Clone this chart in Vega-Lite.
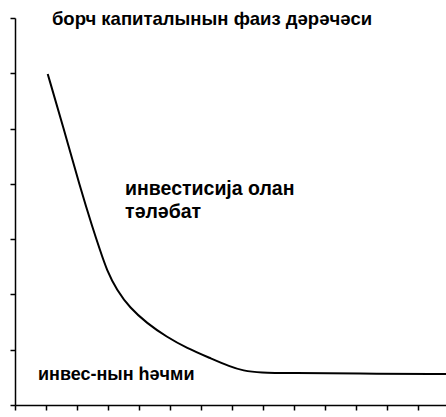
{
  "$schema": "https://vega.github.io/schema/vega-lite/v6.json",
  "width": 431,
  "height": 387,
  "autosize": {"type": "none"},
  "padding": {"left": 15, "top": 18, "right": 0, "bottom": 12},
  "background": "white",
  "config": {
    "view": {"stroke": null},
    "axis": {
      "labels": false,
      "labelOverlap": false,
      "title": null,
      "grid": false,
      "domainColor": "black",
      "domainWidth": 1.5,
      "tickColor": "black",
      "tickWidth": 1.5,
      "tickSize": 5
    },
    "text": {"align": "left", "baseline": "alphabetic", "font": "Liberation Sans", "fontWeight": "bold", "color": "black"}
  },
  "datasets": {
    "curve": [
      {"q": 1.055, "r": 5.986},
      {"q": 1.558, "r": 5.027},
      {"q": 2.097, "r": 3.942},
      {"q": 2.526, "r": 3.165},
      {"q": 2.742, "r": 2.803},
      {"q": 2.958, "r": 2.441},
      {"q": 3.281, "r": 2.08},
      {"q": 3.71, "r": 1.754},
      {"q": 4.248, "r": 1.483},
      {"q": 4.894, "r": 1.23},
      {"q": 5.539, "r": 1.031},
      {"q": 6.29, "r": 0.85},
      {"q": 6.935, "r": 0.693},
      {"q": 7.355, "r": 0.62},
      {"q": 7.903, "r": 0.584},
      {"q": 8.871, "r": 0.577},
      {"q": 11.0, "r": 0.568},
      {"q": 13.9, "r": 0.561}
    ],
    "title": [
      {"q": 1.19, "r": 6.87, "t": "борч капиталынын фаиз дәрәчәси"}
    ],
    "demand": [
      {"q": 3.55, "r": 3.8, "t": "инвестисија олан"},
      {"q": 3.55, "r": 3.39, "t": "тәләбат"}
    ],
    "volume": [
      {"q": 0.74, "r": 0.45, "t": "инвес-нын һәчми"}
    ]
  },
  "layer": [
    {
      "data": {"name": "curve"},
      "mark": {"type": "line", "color": "black", "strokeWidth": 2, "interpolate": "basis"},
      "encoding": {
        "x": {"field": "q", "type": "quantitative", "scale": {"domain": [0, 13.9], "nice": false}, "axis": {"values": [0,1,2,3,4,5,6,7,8,9,10,11,12,13], "tickCount": 14}},
        "y": {"field": "r", "type": "quantitative", "scale": {"domain": [0, 7], "nice": false}, "axis": {"values": [0,1,2,3,4,5,6,7]}}
      }
    },
    {
      "data": {"name": "title"},
      "mark": {"type": "text", "fontSize": 18.5},
      "encoding": {
        "x": {"field": "q", "type": "quantitative"},
        "y": {"field": "r", "type": "quantitative"},
        "text": {"field": "t"}
      }
    },
    {
      "data": {"name": "demand"},
      "mark": {"type": "text", "fontSize": 19.5},
      "encoding": {
        "x": {"field": "q", "type": "quantitative"},
        "y": {"field": "r", "type": "quantitative"},
        "text": {"field": "t"}
      }
    },
    {
      "data": {"name": "volume"},
      "mark": {"type": "text", "fontSize": 18},
      "encoding": {
        "x": {"field": "q", "type": "quantitative"},
        "y": {"field": "r", "type": "quantitative"},
        "text": {"field": "t"}
      }
    }
  ]
}
